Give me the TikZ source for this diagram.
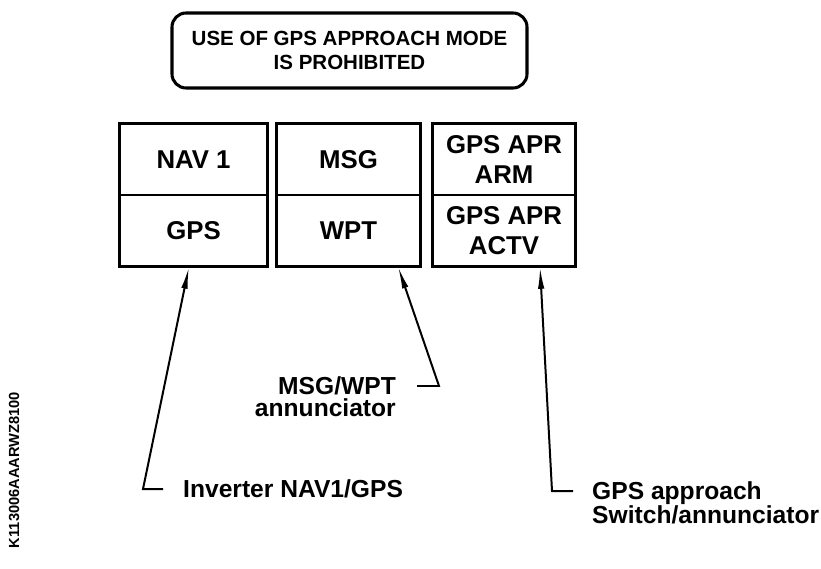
\documentclass[tikz,border=0pt]{standalone}
\usepackage{fontspec}
\setmainfont{Liberation Sans}
\usetikzlibrary{arrows.meta,calc,positioning}

\begin{document}
\begin{tikzpicture}[x=0.03cm,y=-0.03cm,>={Latex[length=19pt,width=5.5pt]},
  cell/.style={draw,line width=1pt,minimum height=2.13cm,inner sep=0pt,align=center,font=\fontsize{22}{25}\selectfont\bfseries},
  frame/.style={line width=2.4pt},
  lbl/.style={inner sep=0pt,font=\fontsize{21}{19.5}\selectfont\bfseries},
  pointer/.style={->,line width=1.7pt}]
\useasboundingbox (0,0) rectangle (821,569);
% placard
\node[draw,line width=2.6pt,rounded corners=12pt,minimum width=10.65cm,minimum height=2.25cm,align=center,font=\fontsize{17.5}{20.4}\selectfont\bfseries] (warn) at (349.5,50.5) {USE OF GPS APPROACH MODE\\IS PROHIBITED};
% annunciator boxes
\node[cell,minimum width=4.41cm] (nav) at (193.5,159.5) {NAV 1};
\node[cell,minimum width=4.41cm] (gps) at (193.5,230.5) {GPS};
\node[cell,minimum width=4.29cm] (msg) at (348.5,159.5) {MSG};
\node[cell,minimum width=4.29cm] (wpt) at (348.5,230.5) {WPT};
\node[cell,minimum width=4.26cm] (arm) at (504,159.5) {GPS APR\\ARM};
\node[cell,minimum width=4.26cm] (actv) at (504,230.5) {GPS APR\\ACTV};
\draw[frame] (nav.north west) rectangle (gps.south east);
\draw[frame] (msg.north west) rectangle (wpt.south east);
\draw[frame] (arm.north west) rectangle (actv.south east);
% callouts
\node[lbl,anchor=west] (inv) at (183,489) {Inverter NAV1/GPS};
\node[lbl,anchor=north east,align=right] (ann) at (396,376) {MSG/WPT\\annunciator};
\node[lbl,anchor=north west,align=left,font=\fontsize{21}{17.5}\selectfont\bfseries] (apr) at (592,481) {GPS approach\\Switch/annunciator};
\draw[pointer] ($(inv.west)+(-20,0)$) -- ++(-20,0) -- ($(gps.south)+(-4.5,0)$);
\draw[pointer] ($(ann.north east)+(21,10)$) -- ++(22,0) -- ($(wpt.south)+(49.5,0)$);
\draw[pointer] ($(apr.north west)+(-19,10)$) -- ++(-21,0) -- ($(actv.south)+(36,0)$);
% drawing number
\node[rotate=90,font=\fontsize{12.5}{14}\selectfont\bfseries] (code) at (14,470) {K113006AAARWZ8100};
\end{tikzpicture}
\end{document}
